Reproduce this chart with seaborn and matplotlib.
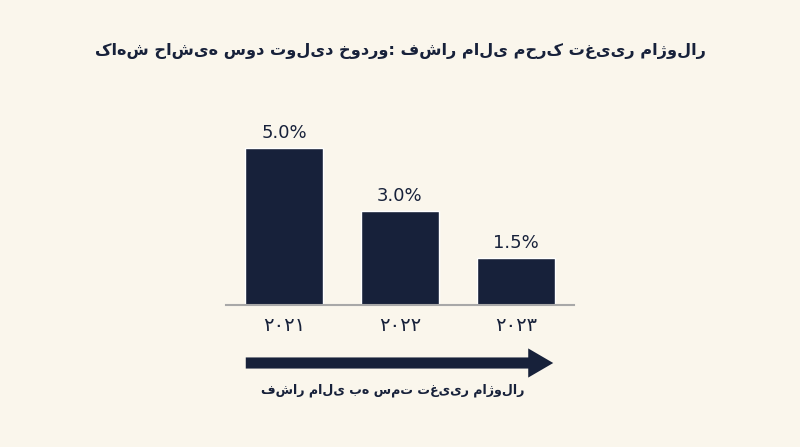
import matplotlib
matplotlib.use("Agg")
import matplotlib.pyplot as plt
import seaborn as sns
import pandas as pd
from matplotlib.patches import FancyArrowPatch

# data
years = ["۲۰۲۱", "۲۰۲۲", "۲۰۲۳"]
margins = [5.0, 3.0, 1.5]
value_labels = ["5.0%", "3.0%", "1.5%"]
title_text = "کاهش حاشیه سود تولید خودرو: فشار مالی محرک تغییر ماژولار"
arrow_text = "فشار مالی به سمت تغییر ماژولار"

BG = "#FAF6EC"
NAVY = "#17213A"

sns.set_theme(style="white")
plt.rcParams["font.family"] = ["DejaVu Sans"]

df = pd.DataFrame({"year": years, "margin": margins})

fig = plt.figure(figsize=(8, 4.47), dpi=100, facecolor=BG)
ax = fig.add_axes([0.2825, 0.3177, 0.435, 0.4139])
ax.set_facecolor(BG)

sns.barplot(data=df, x="year", y="margin", color=NAVY, saturation=1,
            width=0.675, ax=ax)
ax.set_xlim(-0.5, 2.5)
ax.set_ylim(0, 5.89)

for p, lab in zip(ax.patches, value_labels):
    ax.annotate(lab, (p.get_x() + p.get_width() / 2, p.get_height()),
                xytext=(0, 4), textcoords="offset points",
                ha="center", va="bottom", fontsize=13, color=NAVY)

sns.despine(ax=ax, left=True)
ax.spines["bottom"].set_color("#A8A8A8")
ax.spines["bottom"].set_linewidth(1.5)
ax.set_yticks([])
ax.set_xlabel("")
ax.set_ylabel("")
ax.tick_params(axis="x", length=0, pad=8, labelsize=14, labelcolor=NAVY)

title = fig.text(0.5, 0.885, title_text, ha="center", va="center",
                 fontsize=19, fontweight="bold", color=NAVY)

arrow = FancyArrowPatch((243 / 800, 1 - 363 / 447), (556 / 800, 1 - 363 / 447),
                        transform=fig.transFigure,
                        arrowstyle="simple,head_length=0.9,head_width=1.05,tail_width=0.4",
                        mutation_scale=20, color=NAVY, lw=0)
fig.patches.append(arrow)

label = fig.text(393 / 800, 1 - 390 / 447, arrow_text, ha="center", va="center",
                 fontsize=15, fontweight="bold", color=NAVY)

# size the persian texts to roughly the widths seen in the reference
renderer = fig.canvas.get_renderer()
for txt, target in [(title, 610), (label, 265)]:
    w = txt.get_window_extent(renderer).width
    txt.set_fontsize(txt.get_fontsize() * target / w)

fig.savefig("out.png", dpi=100, facecolor=BG)
